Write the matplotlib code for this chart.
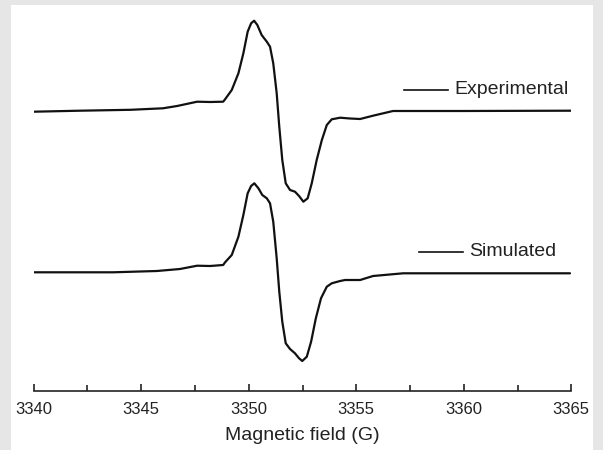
import matplotlib
matplotlib.use("Agg")
import matplotlib.pyplot as plt
from matplotlib.patches import Rectangle
from matplotlib.lines import Line2D
from matplotlib.ticker import MultipleLocator

plt.rcParams['font.family'] = ['Liberation Sans', 'DejaVu Sans']

# Experimental spectrum (field in G, intensity in arbitrary units)
exp_field = [3340.00, 3342.15, 3344.50, 3346.01, 3346.67, 3347.60, 3348.20, 3348.81, 3348.90,
             3349.21, 3349.52, 3349.75, 3349.95, 3350.11, 3350.25, 3350.40, 3350.60,
             3350.84, 3350.99, 3351.14, 3351.30, 3351.42, 3351.56, 3351.72, 3351.92,
             3352.15, 3352.34, 3352.54, 3352.74, 3352.93, 3353.16, 3353.40, 3353.63,
             3353.86, 3354.25, 3354.71, 3355.18, 3355.78, 3356.71, 3359.97, 3364.98]
exp_int = [-0.7, 0.3, 1.2, 2.7, 5.0, 9.3, 9.0, 9.3, 11.7,
           21.0, 37.7, 57.7, 79.3, 87.7, 90.3, 86.0, 76.0,
           69.3, 64.3, 47.7, 17.7, -15.7, -49.0, -72.3, -79.0,
           -80.7, -85.0, -90.7, -87.3, -72.3, -49.0, -29.0, -14.0,
           -8.3, -6.7, -7.5, -8.0, -4.7, 0.0, 0.0, 0.3]

# Simulated spectrum
sim_field = [3340.00, 3343.69, 3345.73, 3346.80, 3347.60, 3348.20, 3348.81, 3348.90,
             3349.21, 3349.52, 3349.75, 3349.95, 3350.11, 3350.26, 3350.45, 3350.63,
             3350.84, 3350.99, 3351.14, 3351.30, 3351.42, 3351.56, 3351.72, 3351.92,
             3352.15, 3352.34, 3352.49, 3352.70, 3352.90, 3353.12, 3353.36, 3353.63,
             3353.86, 3354.25, 3354.48, 3355.18, 3355.78, 3357.18, 3359.22, 3364.94]
sim_int = [0.2, 0.2, 1.5, 3.5, 6.8, 6.5, 7.5, 10.2,
           17.5, 35.8, 57.5, 79.2, 86.5, 89.2, 84.2, 77.5,
           74.2, 69.2, 50.8, 14.2, -19.2, -49.2, -70.8, -76.5,
           -80.8, -85.8, -88.5, -84.2, -69.2, -45.8, -25.8, -14.2,
           -10.8, -8.5, -7.5, -7.5, -3.5, -0.8, -0.8, -0.8]

labels = ["Experimental", "Simulated"]
x_ticks = [3340, 3345, 3350, 3355, 3360, 3365]

# vertical offsets of the two traces (layout)
exp_offset = 280.0
sim_offset = 118.5

W, H = 603, 450
fig = plt.figure(figsize=(W / 100, H / 100), dpi=100)
fig.patch.set_facecolor('#e6e6e6')
fig.add_artist(Rectangle((11 / W, 0), (593 - 11) / W, (H - 5) / H,
                         transform=fig.transFigure, facecolor='white',
                         edgecolor='none', zorder=-10))

ax_bottom_px = 391
ax = fig.add_axes([33.7 / W, (H - ax_bottom_px) / H, (571.3 - 33.7) / W, (ax_bottom_px - 5) / H])
ax.set_zorder(5)
ax.patch.set_alpha(0)

ax.plot(exp_field, [v + exp_offset for v in exp_int], color='#111111', lw=1.6,
        solid_joinstyle='round', solid_capstyle='round')
ax.plot(sim_field, [v + sim_offset for v in sim_int], color='#111111', lw=1.6,
        solid_joinstyle='round', solid_capstyle='round')

ax.set_xlim(3340, 3365)
ax.set_ylim(0, ax_bottom_px - 5)

for s in ['left', 'right', 'top']:
    ax.spines[s].set_visible(False)
ax.spines['bottom'].set_linewidth(1.2)
ax.spines['bottom'].set_color('#222222')
ax.set_yticks([])
ax.set_xticks(x_ticks)
ax.xaxis.set_minor_locator(MultipleLocator(2.5))
ax.tick_params(axis='x', which='major', direction='in', length=5, width=1.2,
               labelsize=12, pad=8, colors='#222222')
ax.tick_params(axis='x', which='minor', direction='in', length=4, width=1.2, colors='#222222')
ax.set_xlabel('Magnetic field (G)', fontsize=14, labelpad=7, color='#222222')

# legend-like labels
for (x0, x1, y, tx), lab in zip([(404, 448, 89.5, 454), (419, 463, 252, 469)], labels):
    fig.add_artist(Line2D([x0 / W, x1 / W], [1 - y / H, 1 - y / H],
                          transform=fig.transFigure, color='#111111', lw=1.2, zorder=6))
    fig.text(tx / W, 1 - y / H, lab, fontsize=14, va='center', ha='left', color='#222222')

fig.savefig('out.png', dpi=100, facecolor=fig.get_facecolor())
